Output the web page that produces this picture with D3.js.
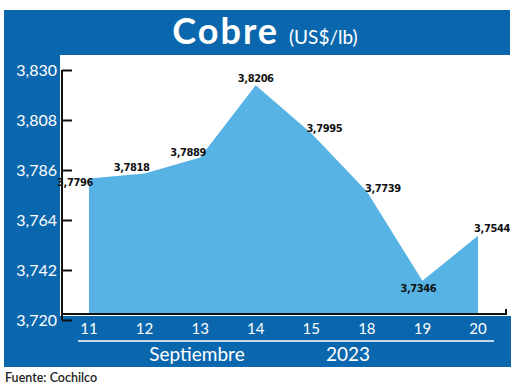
<html>
<head>
<meta charset="utf-8">
<title>Cobre (US$/lb)</title>
<script src="https://d3js.org/d3.v7.min.js"></script>
<style>
body { margin:0; background:#fff; }
.num { font-family:"DejaVu Sans Condensed","DejaVu Sans",sans-serif; font-stretch:condensed; font-size:11px; font-weight:600; letter-spacing:-0.4px; fill:#111; }
.wt { font-family:Lato,"Open Sans",sans-serif; fill:#fff; }
</style>
</head>
<body>
<svg width="520" height="389"></svg>
<script>
// data
var days = ["11","12","13","14","15","18","19","20"];
var prices = [3.7796, 3.7818, 3.7889, 3.8206, 3.7995, 3.7739, 3.7346, 3.7544];
var yTicks = [3.720, 3.742, 3.764, 3.786, 3.808, 3.830];
var monthLabel = "Septiembre";
var yearLabel = "2023";

// where each value label sits relative to its point
var labelDx = [-14, -13, -12, 0, 13, 16, -4, 14];
var labelDy = [7, -3, -1, -3, -1, 0, 11, -4];

var es = d3.formatLocale({decimal:",", thousands:".", grouping:[3], currency:["$",""]});
var fmtTick = es.format(".3f");
var fmtVal = es.format(".4f");

var dark = "#0b67ad";
var fill = "#56b3e3";

var svg = d3.select("svg");

// frame
svg.append("rect").attr("x",4).attr("y",10).attr("width",506).attr("height",45).attr("fill",dark);
svg.append("rect").attr("x",4).attr("y",10).attr("width",56).attr("height",357).attr("fill",dark);
svg.append("rect").attr("x",4).attr("y",316).attr("width",507).attr("height",51).attr("fill",dark);

// title
var t = svg.append("text").attr("x",265).attr("y",44).attr("text-anchor","middle").attr("class","wt");
t.append("tspan").attr("font-size",36).attr("font-weight",700).attr("letter-spacing",2).text("Cobre");
t.append("tspan").attr("font-size",19).attr("dx",10).text("(US$/lb)");

var x = d3.scalePoint().domain(days).range([89,478]);
var y = d3.scaleLinear().domain([3.72,3.83]).range([314,64]);

var area = d3.area()
  .x(function(d,i){ return x(days[i]); })
  .y0(y(3.72))
  .y1(function(d){ return y(d); });

svg.append("path").datum(prices).attr("d",area).attr("fill",fill);

// x axis line
svg.append("path")
  .attr("d","M62," + y(3.72) + "H506V" + (y(3.72)-5))
  .attr("fill","none").attr("stroke","#111").attr("stroke-width",2);

// y axis, ticks point inward
var ya = svg.append("g").attr("transform","translate(62,6)")
  .call(d3.axisLeft(y).tickValues(yTicks).tickSize(-10).tickPadding(15).tickFormat(fmtTick));
ya.select(".domain").attr("stroke","#111").attr("stroke-width",2).attr("d","M0," + y(3.83) + "V" + y(3.72));
ya.selectAll(".tick line").attr("stroke","#111").attr("stroke-width",2);
ya.selectAll(".tick text").attr("class","wt").attr("font-size",16).attr("dy","0.36em").attr("x",-5);

// value labels
svg.append("g").selectAll("text").data(prices).enter().append("text")
  .attr("class","num")
  .attr("text-anchor","middle")
  .attr("x",function(d,i){ return x(days[i]) + labelDx[i]; })
  .attr("y",function(d,i){ return y(d) + labelDy[i]; })
  .text(function(d){ return fmtVal(d); });

// day labels
svg.append("g").selectAll("text").data(days).enter().append("text")
  .attr("class","wt").attr("font-size",15).attr("text-anchor","middle")
  .attr("x",function(d){ return x(d); }).attr("y",334)
  .text(function(d){ return d; });

svg.append("line").attr("x1",78).attr("x2",494).attr("y1",341).attr("y2",341)
  .attr("stroke","#fff").attr("stroke-width",1.5);

svg.append("text").attr("class","wt").attr("font-size",19).attr("text-anchor","middle")
  .attr("x",197).attr("y",361).text(monthLabel);
svg.append("text").attr("class","wt").attr("font-size",19).attr("text-anchor","middle")
  .attr("x",348).attr("y",361).text(yearLabel);

svg.append("text").attr("x",5).attr("y",382)
  .style("font-family","Lato,sans-serif").attr("font-size",12.5).attr("font-weight",600).attr("fill","#222")
  .text("Fuente: Cochilco");
</script>
</body>
</html>
